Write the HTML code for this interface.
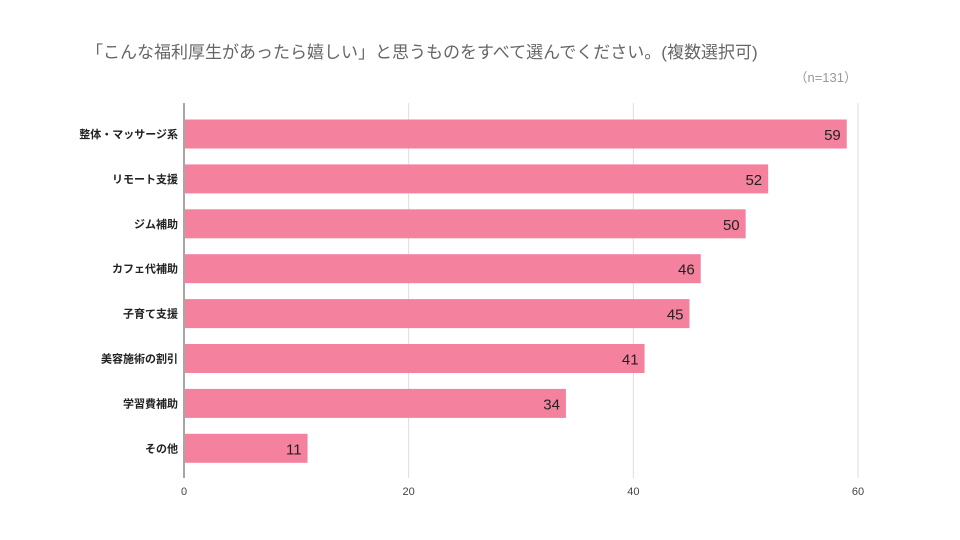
<!DOCTYPE html>
<html><head><meta charset="utf-8"><style>
body{margin:0;background:#fff;}
svg{display:block;font-family:"Liberation Sans","Noto Sans CJK JP",sans-serif;}
</style></head><body>
<svg id="c" width="960" height="540">
<text x="86" y="58" font-size="17" fill="#666">「こんな福利厚生があったら嬉しい」と思うものをすべて選んでください。(複数選択可)</text>
<text x="857" y="82" font-size="13" fill="#999" text-anchor="end">（n=131）</text>
<g id="grid"></g><g id="bars"></g>
</svg>
<script>
const categories=["整体・マッサージ系","リモート支援","ジム補助","カフェ代補助","子育て支援","美容施術の割引","学習費補助","その他"];
const values=[59,52,50,46,45,41,34,11];
const ticks=[0,20,40,60];
const NS="http://www.w3.org/2000/svg";
const x0=184,x1=858,xmax=60,yTop=103,yBottom=478,first=134,step=44.9,bh=29;
const xs=v=>x0+(x1-x0)*v/xmax;
const grid=document.getElementById('grid'),bars=document.getElementById('bars');
function mk(t,a,p){const e=document.createElementNS(NS,t);for(const k in a)e.setAttribute(k,a[k]);p.appendChild(e);return e;}
ticks.forEach(t=>{
 const l=mk('line',{x1:xs(t),x2:xs(t),y1:yTop,y2:yBottom,stroke:t===0?'#888':'#ddd','stroke-width':t===0?1.5:1},grid);
 
 
 const tx=mk('text',{x:xs(t),y:495,'font-size':11,fill:'#444','text-anchor':'middle'},grid);
 tx.textContent=t;
 
 
});
categories.forEach((c,i)=>{
 const cy=first+step*i;
 const r=mk('rect',{x:x0+1,y:cy-bh/2,width:xs(values[i])-x0-1,height:bh,fill:'#f4829f'},bars);
 
 
 const lb=mk('text',{x:178,y:cy+4,'font-size':11,'font-weight':'bold',fill:'#222','text-anchor':'end'},bars);
 lb.textContent=c;
 
 
 const vl=mk('text',{x:xs(values[i])-6,y:cy+6,'font-size':15,fill:'#222','text-anchor':'end'},bars);
 vl.textContent=values[i];
 
 
});
</script>
</body></html>
